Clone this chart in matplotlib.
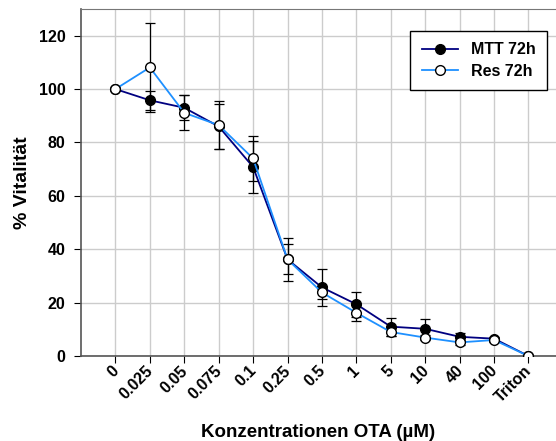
import numpy as np
import matplotlib.pyplot as plt
import matplotlib.transforms as mtransforms

plt.rcParams['font.family'] = ['Liberation Sans', 'DejaVu Sans']
plt.rcParams['font.weight'] = 'bold'

# Daten
konz = ["0", "0.025", "0.05", "0.075", "0.1", "0.25", "0.5", "1", "5", "10", "40", "100", "Triton"]
mtt = [100, 95.8, 93.0, 86.0, 70.8, 36.2, 25.7, 19.4, 11.0, 10.2, 7.2, 6.5, 0]
mtt_err = [0, 3.5, 4.6, 8.5, 9.6, 8.0, 6.8, 4.6, 3.4, 3.5, 1.6, 0.7, 0]
res = [100, 108.1, 91.1, 86.5, 74.0, 36.2, 23.8, 16.2, 9.0, 6.9, 5.1, 6.0, 0]
res_err = [0, 16.5, 6.6, 9.0, 8.4, 5.6, 2.6, 3.0, 1.5, 0.8, 0.8, 0.9, 0]

x = np.arange(len(konz))

fig = plt.figure(figsize=(5.56, 4.41), dpi=100)
ax = fig.add_axes([0.1457, 0.1927, 0.8543, 0.7869])

# Fehlerbalken
ax.errorbar(x, mtt, yerr=mtt_err, fmt="none", ecolor="black", elinewidth=0.9,
            capsize=3.6, capthick=0.9, zorder=3)
ax.errorbar(x, res, yerr=res_err, fmt="none", ecolor="black", elinewidth=0.9,
            capsize=3.6, capthick=0.9, zorder=3)

# Kurven
ax.plot(x, mtt, color="#000080", linewidth=1.3, marker="o", markersize=7,
        markerfacecolor="black", markeredgecolor="black", label="MTT 72h", zorder=4)
ax.plot(x, res, color="#1E90FF", linewidth=1.3, marker="o", markersize=7,
        markerfacecolor="white", markeredgecolor="black", label="Res 72h", zorder=5)

ax.set_xlim(-1, 12.8)
ax.set_ylim(0, 130)
ax.set_yticks([0, 20, 40, 60, 80, 100, 120])
ax.set_xticks(x)
ax.set_xticklabels(konz, rotation=45, ha="right", va="top", rotation_mode="anchor",
                   fontsize=11.5, fontweight="bold")
ax.tick_params(axis="y", labelsize=11.5, direction="out", length=5, pad=6)
ax.tick_params(axis="x", direction="out", length=5, pad=0)
# Beschriftungen etwas nach links schieben
versatz = mtransforms.ScaledTranslation(-3 / 72, 0, fig.dpi_scale_trans)
for lab in ax.get_xticklabels():
    lab.set_transform(lab.get_transform() + versatz)
for lab in ax.get_yticklabels():
    lab.set_fontweight("bold")

ax.grid(True, color="#cccccc", linewidth=1)
ax.set_axisbelow(True)
for s in ["left", "bottom"]:
    ax.spines[s].set_color("#555555")
    ax.spines[s].set_linewidth(1.2)
ax.spines["top"].set_color("#777777")
ax.spines["right"].set_visible(False)

ax.set_ylabel("% Vitalität", fontsize=14, fontweight="bold", labelpad=6)
ax.set_xlabel("Konzentrationen OTA (µM)", fontsize=13.5, fontweight="bold", labelpad=14)

leg = ax.legend(loc="upper right", bbox_to_anchor=(0.981, 0.9366), fontsize=11.5,
                frameon=True, fancybox=False, edgecolor="black", framealpha=1,
                handlelength=2.3, borderpad=0.7, borderaxespad=0, labelspacing=0.4)
leg.get_frame().set_linewidth(1)
for t in leg.get_texts():
    t.set_fontweight("bold")

plt.savefig("out.png", dpi=100)
